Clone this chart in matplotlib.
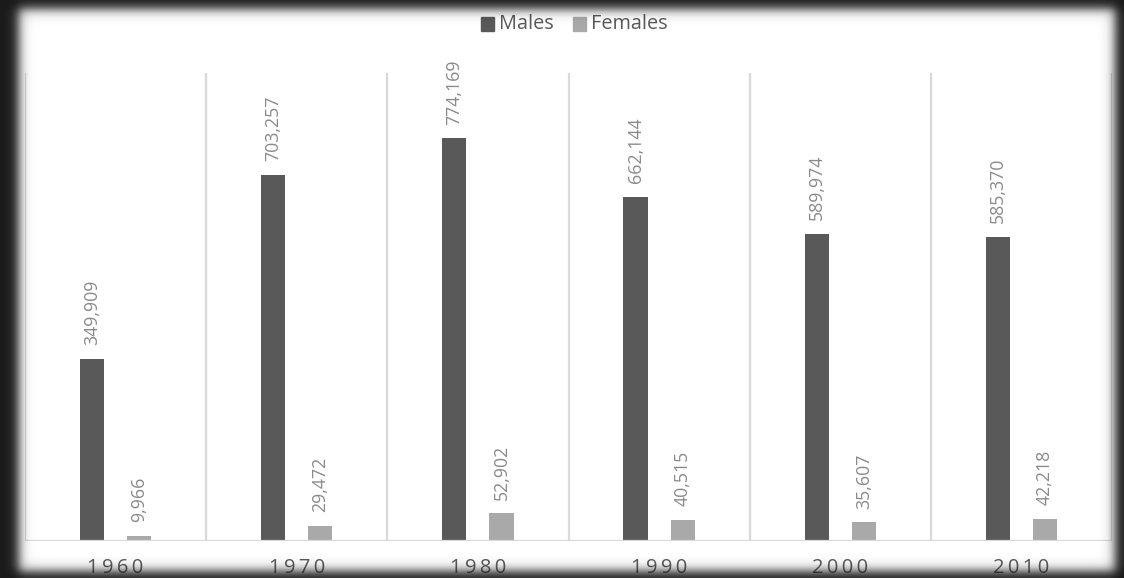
import numpy as np
import matplotlib
matplotlib.use("Agg")
import matplotlib.pyplot as plt
from matplotlib.patches import Rectangle

# Census counts by decade
years = ["1960", "1970", "1980", "1990", "2000", "2010"]
males = [349909, 703257, 774169, 662144, 589974, 585370]
females = [9966, 29472, 52902, 40515, 35607, 42218]

W, H = 1124, 578
fig = plt.figure(figsize=(W / 100, H / 100), dpi=100)
fig.patch.set_facecolor("white")

ax = fig.add_axes([25 / W, (H - 541) / H, (1112 - 25) / W, (541 - 73) / H])
ax.set_facecolor("white")

male_c = "#595959"
female_c = "#a9a9a9"
label_c = "#8a8a8a"
grid_c = "#d9d9d9"

x = np.arange(len(years))
bw = 0.133
off = 0.13
ax.bar(x - off, males, width=bw, color=male_c, zorder=3)
ax.bar(x + off, females, width=bw, color=female_c, zorder=3)

ax.set_xlim(-0.5, len(years) - 0.5)
ax.set_ylim(0, 900000)

# category separators
for b in np.arange(-0.5, len(years), 1.0):
    ax.axvline(b, color=grid_c, lw=1.6, zorder=1)
ax.axhline(0, color=grid_c, lw=1.6, zorder=4)

for s in ax.spines.values():
    s.set_visible(False)
ax.set_xticks([])
ax.set_yticks([])

fam = ["Open Sans", "DejaVu Sans"]
for xi, m, f in zip(x, males, females):
    for xv, v in ((xi - off, m), (xi + off, f)):
        ax.annotate(f"{v:,}", (xv, v), xytext=(0, 10), textcoords="offset points",
                    rotation=90, ha="center", va="bottom", color=label_c,
                    fontsize=12.8, family=fam)
    ax.annotate("\u2009".join(years[xi]), (xi, 0), xytext=(0, -19.5),
                textcoords="offset points", ha="center", va="center",
                color="#595959", fontsize=14.5, family=fam)

# legend
ly = 1 - 24 / H
fig.patches.append(Rectangle((481 / W, ly - 6.5 / H), 13 / W, 13 / H,
                             transform=fig.transFigure, color=male_c))
fig.text(499 / W, ly, "Males", ha="left", va="center", color="#595959",
         fontsize=14.3, family=fam)
fig.patches.append(Rectangle((573 / W, ly - 6.5 / H), 13 / W, 13 / H,
                             transform=fig.transFigure, color=female_c))
fig.text(591 / W, ly, "Females", ha="left", va="center", color="#595959",
         fontsize=14.3, family=fam)

# dark soft-edged frame
xx = np.arange(W) + 0.5
yy = np.arange(H) + 0.5
def sig(t):
    return 1 / (1 + np.exp(-t))
s = 3.2
fx = sig((xx - 19) / s) * sig((1115 - xx) / s)
fy = sig((yy - 9) / s) * sig((571 - yy) / s)
inside = np.outer(fy, fx)
rgba = np.zeros((H, W, 4))
rgba[..., :3] = 0.1
rgba[..., 3] = 1 - inside
fax = fig.add_axes([0, 0, 1, 1], zorder=10)
fax.imshow(rgba, extent=(0, W, H, 0), interpolation="bilinear", aspect="auto")
fax.set_axis_off()

fig.savefig("out.png", dpi=100)
